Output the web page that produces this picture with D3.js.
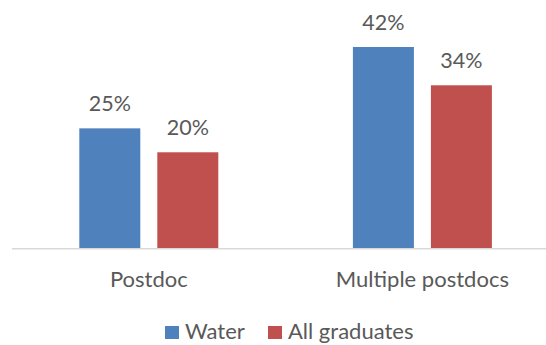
<!DOCTYPE html>
<html><head><meta charset="utf-8">
<script src="https://cdn.jsdelivr.net/npm/d3@7"></script>
<style>body{margin:0;background:#fff}svg{display:block}text{font-family:Lato,"Open Sans",sans-serif;fill:#595959}</style>
</head><body><svg id="c" width="546" height="345"></svg>
<script>
const categories = ["Postdoc", "Multiple postdocs"];
const seriesNames = ["Water", "All graduates"];
const waterValues = [0.25, 0.42];
const allGradValues = [0.20, 0.34];
const colors = ["#4F81BD", "#C0504D"];

const svg = d3.select("#c");
const baseY = 248;
const x0 = d3.scaleBand().domain(categories).range([12, 559.2]);
const x1 = d3.scaleBand().domain(seriesNames).range([0, x0.bandwidth()]).paddingInner(0.218).paddingOuter(0.863);
const y = d3.scaleLinear().domain([0, 0.42]).range([baseY, 47]);
const fmt = d3.format(".0%");

const data = categories.map((c, i) => ({cat: c, vals: [waterValues[i], allGradValues[i]]}));

const g = svg.selectAll("g.grp").data(data).join("g").attr("class", "grp")
  .attr("transform", d => `translate(${x0(d.cat)},0)`);
g.selectAll("rect").data(d => d.vals.map((v, j) => ({s: seriesNames[j], v, j}))).join("rect")
  .attr("x", d => x1(d.s)).attr("width", x1.bandwidth())
  .attr("y", d => y(d.v)).attr("height", d => baseY - y(d.v))
  .attr("fill", d => colors[d.j]);
g.selectAll("text.lbl").data(d => d.vals.map((v, j) => ({s: seriesNames[j], v, j}))).join("text")
  .attr("class", "lbl")
  .attr("x", d => x1(d.s) + x1.bandwidth() / 2).attr("y", d => y(d.v) - 17)
  .attr("text-anchor", "middle").attr("font-size", 21.5).text(d => fmt(d.v));

// baseline axis
svg.append("line").attr("x1", 12).attr("x2", 546).attr("y1", baseY + 0.75).attr("y2", baseY + 0.75)
  .attr("stroke", "#d9d9d9").attr("stroke-width", 1.5);

svg.selectAll("text.cat").data(categories).join("text").attr("class", "cat")
  .attr("x", d => x0(d) + x0.bandwidth() / 2).attr("y", 287)
  .attr("text-anchor", "middle").attr("font-size", 22).text(d => d);

// legend
const legX = [165, 268];
const leg = svg.selectAll("g.leg").data(seriesNames).join("g").attr("class", "leg")
  .attr("transform", (d, i) => `translate(${legX[i]},0)`);
leg.append("rect").attr("x", 0).attr("y", 326).attr("width", 14).attr("height", 13).attr("fill", (d, i) => colors[i]);
leg.append("text").attr("x", 20).attr("y", 339).attr("font-size", 22).text(d => d);
</script></body></html>
